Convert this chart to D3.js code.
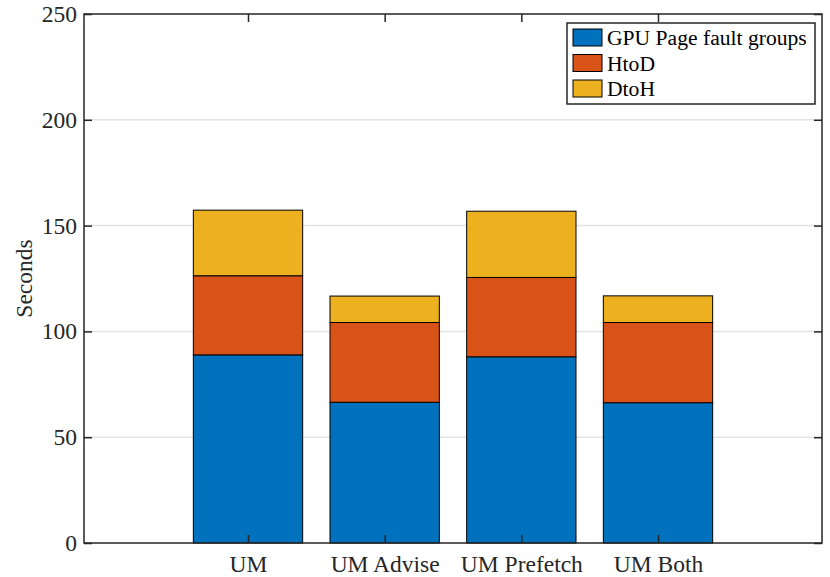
<!DOCTYPE html>
<html>
<head>
<meta charset="utf-8">
<script src="https://cdn.jsdelivr.net/npm/d3@7"></script>
<style>
body{margin:0;background:#fff;}
text{font-family:"Liberation Serif","DejaVu Serif",serif;}
</style>
</head>
<body>
<div id="chart"></div>
<script>
// data
var categories = ["UM","UM Advise","UM Prefetch","UM Both"]
var seriesNames = ["GPU Page fault groups","HtoD","DtoH"]
var gpuFault = [88.9,66.5,88.0,66.3]
var htod = [37.4,37.7,37.5,37.9]
var dtoh = [31.0,12.5,31.3,12.6]
var yTicks = [0,50,100,150,200,250]

var colors = ["#0072BD","#D95319","#EDB120"]
var axisColor = "#262626"

var width = 830, height = 577
var axLeft = 84, axRight = 822, axTop = 14, axBottom = 543

var svg = d3.select("#chart").append("svg")
    .attr("width",width)
    .attr("height",height)

// x is numeric like matlab bar(1:4)
var scaleX = d3.scaleLinear()
    .domain([-0.2,5.2])
    .range([axLeft,axRight])
var scaleY = d3.scaleLinear()
    .domain([0,250])
    .range([axBottom,axTop])

// table for the stack
var table = categories.map((c,i)=>{
    var row = {idx:i+1,name:c}
    row[seriesNames[0]] = gpuFault[i]
    row[seriesNames[1]] = htod[i]
    row[seriesNames[2]] = dtoh[i]
    return row
})
var series = d3.stack().keys(seriesNames)(table)

//网格线
svg.append("g")
    .selectAll("line")
    .data(yTicks.filter(d=>d>0 && d<250))
    .join("line")
    .attr("x1",axLeft).attr("x2",axRight)
    .attr("y1",d=>scaleY(d)).attr("y2",d=>scaleY(d))
    .attr("stroke","#e3e3e3")
    .attr("stroke-width",1.5)

//柱子
var barW = (scaleX(1)-scaleX(0))*0.8
svg.append("g")
    .selectAll("g")
    .data(series)
    .join("g")
    .attr("fill",(d,i)=>colors[i])
    .selectAll("rect")
    .data(d=>d)
    .join("rect")
    .attr("x",d=>scaleX(d.data.idx)-barW/2)
    .attr("width",barW)
    .attr("y",d=>scaleY(d[1]))
    .attr("height",d=>scaleY(d[0])-scaleY(d[1]))
    .attr("stroke","#000")
    .attr("stroke-width",1)

//坐标轴
var tickLen = 8
var gAxis = svg.append("g")
gAxis.append("rect")
    .attr("x",axLeft).attr("y",axTop)
    .attr("width",axRight-axLeft).attr("height",axBottom-axTop)
    .attr("fill","none")
    .attr("stroke",axisColor)
    .attr("stroke-width",1.5)

var yAxisL = d3.axisLeft(scaleY).tickValues(yTicks).tickSizeInner(-tickLen).tickSizeOuter(0).tickPadding(7)
var yAxisR = d3.axisRight(scaleY).tickValues(yTicks).tickSizeInner(-tickLen).tickSizeOuter(0).tickFormat("")
var xAxisB = d3.axisBottom(scaleX).tickValues([1,2,3,4]).tickSizeInner(-tickLen).tickSizeOuter(0).tickPadding(12)
    .tickFormat(d=>categories[d-1])
var xAxisT = d3.axisTop(scaleX).tickValues([1,2,3,4]).tickSizeInner(-tickLen).tickSizeOuter(0).tickFormat("")

function styleAxis(g){
    g.select(".domain").remove()
    g.selectAll(".tick line").attr("stroke",axisColor).attr("stroke-width",1.5)
    g.selectAll(".tick text")
        .attr("fill",axisColor)
        .style("font-family","'Liberation Serif',serif")
        .style("font-size","23.5px")
}
gAxis.append("g").attr("transform","translate("+axLeft+",0)").call(yAxisL).call(styleAxis)
gAxis.append("g").attr("transform","translate("+axRight+",0)").call(yAxisR).call(styleAxis)
gAxis.append("g").attr("transform","translate(0,"+axBottom+")").call(xAxisB).call(styleAxis)
gAxis.append("g").attr("transform","translate(0,"+axTop+")").call(xAxisT).call(styleAxis)

svg.append("text")
    .attr("transform","translate(32,"+((axTop+axBottom)/2)+") rotate(-90)")
    .attr("text-anchor","middle")
    .attr("fill",axisColor)
    .style("font-size","23.5px")
    .text("Seconds")

//图例
var legend = svg.append("g").attr("transform","translate(567,23)")
legend.append("rect")
    .attr("width",248).attr("height",81)
    .attr("fill","#fff")
    .attr("stroke",axisColor)
    .attr("stroke-width",1.5)
var items = legend.selectAll("g.item")
    .data(seriesNames)
    .join("g")
    .attr("class","item")
    .attr("transform",(d,i)=>"translate(6,"+(6+i*25.5)+")")
items.append("rect")
    .attr("width",29).attr("height",17)
    .attr("fill",(d,i)=>colors[i])
    .attr("stroke","#000")
    .attr("stroke-width",1)
items.append("text")
    .attr("x",34).attr("y",16)
    .attr("fill","#000")
    .style("font-size","21.6px")
    .text(d=>d)
</script>
</body>
</html>
